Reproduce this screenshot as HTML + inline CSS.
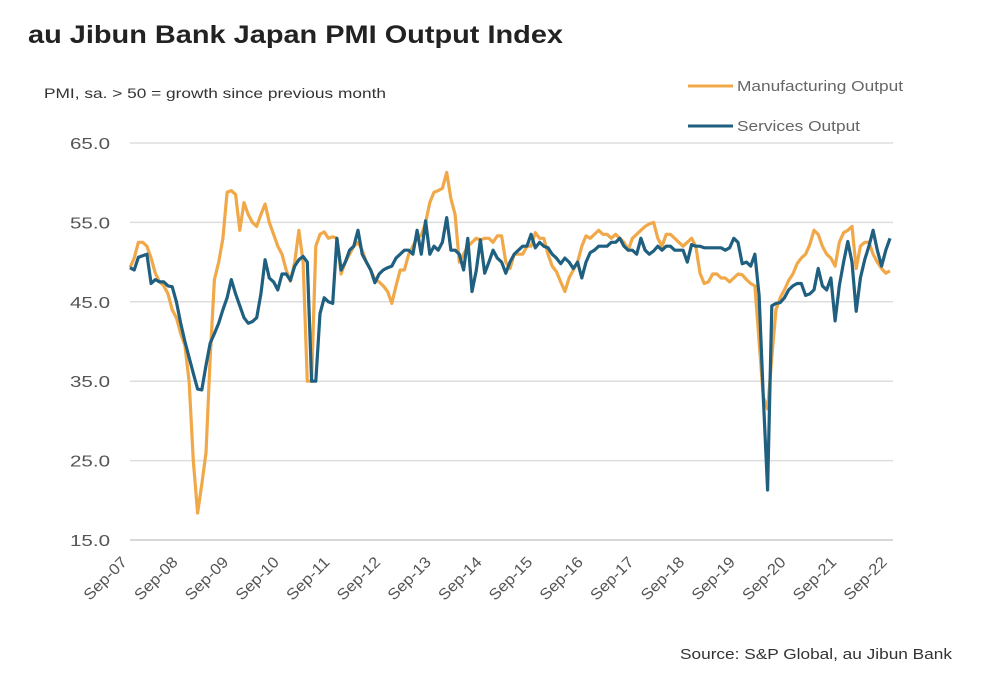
<!DOCTYPE html>
<html><head><meta charset="utf-8"><style>
body{margin:0;background:#fff;font-family:"Liberation Sans",sans-serif;}
svg text{font-family:"Liberation Sans",sans-serif;}
</style></head><body>
<svg id="c" width="992" height="682">
<text x="28" y="43" font-size="25" font-weight="bold" fill="#222" textLength="535" lengthAdjust="spacingAndGlyphs">au Jibun Bank Japan PMI Output Index</text>
<text x="44" y="98" font-size="14" fill="#333" textLength="342" lengthAdjust="spacingAndGlyphs">PMI, sa. &gt; 50 = growth since previous month</text>
<g>
<line x1="688" y1="86" x2="733" y2="86" stroke="#F0A848" stroke-width="3"/>
<text x="737" y="91" font-size="14.5" fill="#666" textLength="166" lengthAdjust="spacingAndGlyphs">Manufacturing Output</text>
<line x1="688" y1="126" x2="733" y2="126" stroke="#1F5F7F" stroke-width="3"/>
<text x="737" y="131" font-size="14.5" fill="#666" textLength="123" lengthAdjust="spacingAndGlyphs">Services Output</text>
</g>
<g id="grid"></g><g id="series"></g><g id="xl"></g>
<text x="952" y="659" font-size="14.5" fill="#333" text-anchor="end" textLength="272" lengthAdjust="spacingAndGlyphs">Source: S&amp;P Global,  au Jibun Bank</text>
</svg>
<script>
const yTicks=[15,25,35,45,55,65];
const xTickLabels=["Sep-07","Sep-08","Sep-09","Sep-10","Sep-11","Sep-12","Sep-13","Sep-14","Sep-15","Sep-16","Sep-17","Sep-18","Sep-19","Sep-20","Sep-21","Sep-22"];
const manufacturing=[49.3,50.5,52.5,52.5,52,50.5,48.6,47.5,47,46,44,43,
41,39.5,35,25,18.4,22,26,38,47.8,50,53,58.8,
59,58.5,54,57.5,56,55,54.5,56,57.3,55,53.5,52,
51,49,47.6,50,54,50,35,35,52,53.5,53.8,53,
53.2,53,48.5,50,51,52,52.5,51.5,50,49,47.8,47.5,
47,46.3,44.8,47,49,49,51,52,53,53.4,55,57.5,
58.8,59,59.3,61.3,58,56,50,51,52,52.5,53,52.8,
53,53,52.5,53.3,53.3,50,49.2,51,51,51,52,52,
53.7,53,53,51,49.5,48.8,47.5,46.3,48,49,50,52,
53.3,53,53.5,54,53.5,53.5,53,53.5,53,52.5,51.5,53,
53.5,54,54.5,54.8,55,53,52,53.5,53.5,53,52.5,52,
52.5,53,52,48.6,47.3,47.5,48.5,48.5,48,48,47.5,48,
48.5,48.4,47.8,47.3,47,40,33,31.5,38,44,45.5,46.5,
47.7,48.5,49.8,50.5,51,52.2,54,53.5,52,51,50.5,49.5,
52.5,53.7,54,54.5,49.2,52,52.5,52.5,51,50,49.2,48.6,48.9];
const services=[49.3,49,50.6,50.8,51,47.3,47.8,47.5,47.5,47,46.9,45,
42.3,40,38,36,34,33.9,37,39.8,41,42.3,44,45.5,
47.8,46,44.5,43,42.3,42.5,43,46,50.3,48,47.5,46.5,
48.5,48.5,47.7,49.5,50.3,50.7,50,35,35,43.5,45.5,45,
44.8,53,49,50,51.5,52,54,51,50,49,47.4,48.5,
49,49.3,49.5,50.5,51,51.5,51.5,51,54,51,55.2,51,
52,51.5,52.5,55.6,51.5,51.5,51,49,53,46.3,48.9,52.8,
48.6,50,51.5,50.5,50,48.6,50,51,51.5,52,52,53.5,
51.8,52.5,52,51.8,51,50.5,49.8,50.5,50,49.2,50,48,
50,51.2,51.5,52,52,52,52.5,52.5,53,52,51.5,51.5,
51,53,51.5,51,51.4,52,51.5,52,52,51.5,51.5,51.5,
50,52.2,52,52,51.8,51.8,51.8,51.8,51.8,51.5,51.8,53,
52.5,49.8,50,49.5,51,45.8,33,21.3,44.5,44.8,44.9,45.5,
46.5,47,47.3,47.3,45.8,46,46.5,49.2,47,46.5,48,42.6,
47,50,52.6,50,43.8,48,50.3,52,54,51.5,49.5,51.5,53];
const X0=130,X1=890,Y0=540,Y1=143,N=180;
const xs=i=>X0+(X1-X0)*i/N;
const ys=v=>Y0-(v-15)/(65-15)*(Y0-Y1);
const NS="http://www.w3.org/2000/svg";
const grid=document.getElementById('grid');
yTicks.forEach(t=>{
 const l=document.createElementNS(NS,'line');
 l.setAttribute('x1',X0);l.setAttribute('x2',893);l.setAttribute('y1',ys(t));l.setAttribute('y2',ys(t));
 l.setAttribute('stroke',t===15?'#ccc':'#ddd');l.setAttribute('stroke-width','1.5');
 
 
 grid.appendChild(l);
 const tx=document.createElementNS(NS,'text');
 tx.setAttribute('x',110);tx.setAttribute('y',ys(t)+6);tx.setAttribute('text-anchor','end');
 tx.setAttribute('font-size','16');tx.setAttribute('fill','#555');tx.textContent=t.toFixed(1);
 tx.setAttribute('textLength','40');tx.setAttribute('lengthAdjust','spacingAndGlyphs');
 
 
 grid.appendChild(tx);
});
const xl=document.getElementById('xl');
xTickLabels.forEach((s,k)=>{
 const x=xs(k*12)-2,y=563;
 const tx=document.createElementNS(NS,'text');
 tx.setAttribute('x',x);tx.setAttribute('y',y);tx.setAttribute('text-anchor','end');
 tx.setAttribute('font-size','15.5');tx.setAttribute('fill','#555');
 tx.setAttribute('textLength','54');tx.setAttribute('lengthAdjust','spacingAndGlyphs');
 tx.setAttribute('transform','rotate(-45 '+x+' '+y+')');tx.textContent=s;
 
 
 xl.appendChild(tx);
});
const sg=document.getElementById('series');
function line(arr,color,name){
 const p=document.createElementNS(NS,'polyline');
 p.setAttribute('points',arr.map((v,i)=>xs(i).toFixed(1)+','+ys(v).toFixed(1)).join(' '));
 p.setAttribute('fill','none');p.setAttribute('stroke',color);p.setAttribute('stroke-width','3.2');
 p.setAttribute('stroke-linejoin','round');
 
 
 sg.appendChild(p);
}
line(manufacturing,'#F0A848','manufacturing-output-line');
line(services,'#1F5F7F','services-output-line');
</script>
</body></html>
